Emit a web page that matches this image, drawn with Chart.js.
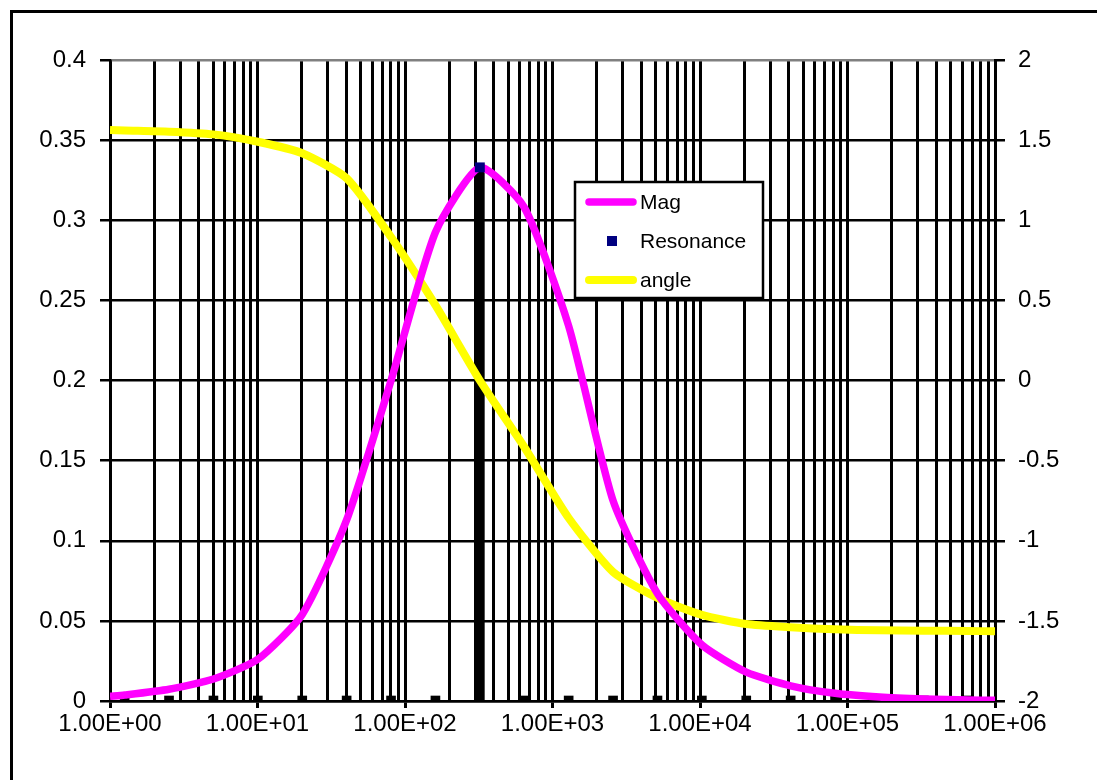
<!DOCTYPE html>
<html>
<head>
<meta charset="utf-8">
<script src="https://cdn.jsdelivr.net/npm/chart.js@4"></script>
<style>
  html, body { margin: 0; padding: 0; background: #fff; }
  #wrap { width: 1097px; height: 780px; }
</style>
</head>
<body>
<div id="wrap"><canvas id="chart" width="1097" height="780"></canvas></div>
<script>
// sweep frequencies (rad/s)
const freq = [1, 1.257, 2.513, 5.027, 10.05, 20.11, 40.21, 80.42, 160.8, 321.7, 643.4,
  1287, 2574, 5147, 10294, 20588, 41177, 82354, 164708, 329417, 658834, 1000000];
// magnitude (left axis)
const mag = [0.0029, 0.0037, 0.0073, 0.0137, 0.026, 0.054, 0.113, 0.200, 0.2925, 0.333, 0.308,
  0.234, 0.125, 0.067, 0.035, 0.018, 0.0095, 0.0048, 0.0025, 0.0013, 0.0006, 0.0004];
// phase angle in rad (right axis)
const angle = [1.563, 1.56, 1.553, 1.536, 1.49, 1.418, 1.262, 0.895, 0.47, 0.0, -0.415,
  -0.858, -1.195, -1.357, -1.463, -1.52, -1.54, -1.553, -1.559, -1.561, -1.563, -1.565];
// resonance column (only non zero at the peak)
const resonance = [null, 0, 0, 0, 0, 0, 0, 0, 0, 0.333, 0,
  0, 0, 0, 0, 0, 0, 0, 0, 0, 0, null];
const resonanceFreq = 321.7;
const resonancePeak = 0.333;

const xTickLabels = ['1.00E+00', '1.00E+01', '1.00E+02', '1.00E+03', '1.00E+04', '1.00E+05', '1.00E+06'];

const FONT = "'Liberation Sans', Arial, sans-serif";

function isDecade(v) {
  const l = Math.log10(v);
  return Math.abs(l - Math.round(l)) < 1e-9;
}

// white page + chart border
const frame = {
  id: 'frame',
  beforeDraw(chart) {
    const c = chart.ctx;
    c.save();
    c.fillStyle = '#fff';
    c.fillRect(0, 0, chart.width, chart.height);
    c.strokeStyle = '#000';
    c.lineWidth = 3;
    c.beginPath();
    c.moveTo(11.5, chart.height);
    c.lineTo(11.5, 11.5);
    c.lineTo(chart.width, 11.5);
    c.stroke();
    c.restore();
  }
};

// boxed legend sitting inside the plot
const legendBox = {
  id: 'legendBox',
  afterDraw(chart) {
    const c = chart.ctx;
    const byLabel = {};
    chart.data.datasets.forEach(d => { byLabel[d.label] = d; });
    c.save();
    c.fillStyle = '#fff';
    c.fillRect(575, 182, 188, 116);
    c.strokeStyle = '#000';
    c.lineWidth = 2.5;
    c.strokeRect(575, 182, 188, 116);

    c.font = '21px ' + FONT;
    c.fillStyle = '#000';
    c.textBaseline = 'middle';
    c.textAlign = 'left';

    const rows = [['Mag', 202], ['Resonance', 241], ['angle', 280]];
    rows.forEach(([name, y]) => {
      const d = byLabel[name];
      if (d.showLine === false) {
        c.fillStyle = d.backgroundColor;
        c.fillRect(607, y - 5, 10, 10);
      } else {
        c.strokeStyle = d.borderColor;
        c.lineWidth = d.borderWidth;
        c.lineCap = 'round';
        c.beginPath();
        c.moveTo(589, y);
        c.lineTo(633, y);
        c.stroke();
      }
      c.fillStyle = '#000';
      c.fillText(name, 640, y + 1);
    });
    c.restore();
  }
};

const ctx = document.getElementById('chart').getContext('2d');
const chart = new Chart(ctx, {
  type: 'line',
  data: {
    datasets: [
      {
        label: 'Resonance',
        data: [{ x: resonanceFreq, y: resonancePeak }],
        showLine: false,
        pointStyle: 'rect',
        pointRadius: 7,
        backgroundColor: '#000080',
        borderColor: '#000080',
        borderWidth: 0,
        yAxisID: 'y',
        order: 0
      },
      {
        label: 'Mag',
        data: freq.map((f, i) => ({ x: f, y: mag[i] })),
        borderColor: '#ff00ff',
        borderWidth: 7.5,
        borderJoinStyle: 'round',
        tension: 0.2,
        pointRadius: 0,
        yAxisID: 'y',
        order: 1
      },
      {
        label: 'angle',
        data: freq.map((f, i) => ({ x: f, y: angle[i] })),
        borderColor: '#ffff00',
        borderWidth: 8,
        borderJoinStyle: 'round',
        tension: 0.2,
        pointRadius: 0,
        yAxisID: 'y1',
        order: 2
      },
      {
        label: 'column',
        type: 'bar',
        data: freq.map((f, i) => ({ x: f, y: resonance[i] })).filter(p => p.y !== null),
        backgroundColor: '#000',
        borderWidth: 0,
        barThickness: 9,
        minBarLength: 5,
        yAxisID: 'y',
        order: 3
      }
    ]
  },
  options: {
    responsive: false,
    animation: false,
    devicePixelRatio: 1,
    layout: { padding: { top: 60, left: 0, right: 0, bottom: 0 } },
    plugins: {
      legend: { display: false },
      tooltip: { enabled: false }
    },
    scales: {
      x: {
        type: 'logarithmic',
        min: 1,
        max: 1e6,
        offset: false,
        afterBuildTicks(s) {
          const t = [];
          for (let e = 0; e < 6; e++) {
            for (let m = 1; m < 10; m++) t.push({ value: m * Math.pow(10, e) });
          }
          t.push({ value: 1e6 });
          s.ticks = t;
        },
        afterFit(s) { s.height = 79; },
        grid: {
          offset: false,
          color: '#000',
          lineWidth: 3,
          tickLength: 7,
          tickColor: c => (c.tick && isDecade(c.tick.value)) ? '#000' : 'rgba(0,0,0,0)'
        },
        border: { color: '#000', width: 2.5 },
        ticks: {
          autoSkip: false,
          maxRotation: 0,
          minRotation: 0,
          padding: 2,
          color: '#000',
          font: { family: FONT, size: 24 },
          callback: v => isDecade(v) ? xTickLabels[Math.round(Math.log10(v))] : ''
        }
      },
      y: {
        position: 'left',
        min: 0,
        max: 0.4,
        afterFit(s) { s.width = 110; },
        grid: {
          color: c => (c.tick && c.tick.value >= 0.399) ? '#808080' : '#000',
          lineWidth: 2.5,
          tickLength: 10,
          tickColor: '#000'
        },
        border: { color: '#000', width: 2.5 },
        ticks: {
          stepSize: 0.05,
          padding: 14,
          color: '#000',
          font: { family: FONT, size: 24 },
          callback: v => String(+v.toFixed(2))
        }
      },
      y1: {
        position: 'right',
        min: -2,
        max: 2,
        afterFit(s) { s.width = 102; },
        grid: {
          drawOnChartArea: false,
          lineWidth: 2.5,
          tickLength: 10,
          tickColor: '#000'
        },
        border: { color: '#000', width: 3 },
        ticks: {
          stepSize: 0.5,
          padding: 13,
          color: '#000',
          font: { family: FONT, size: 24 },
          callback: v => String(+v.toFixed(1))
        }
      }
    }
  },
  plugins: [frame, legendBox]
});
</script>
</body>
</html>
